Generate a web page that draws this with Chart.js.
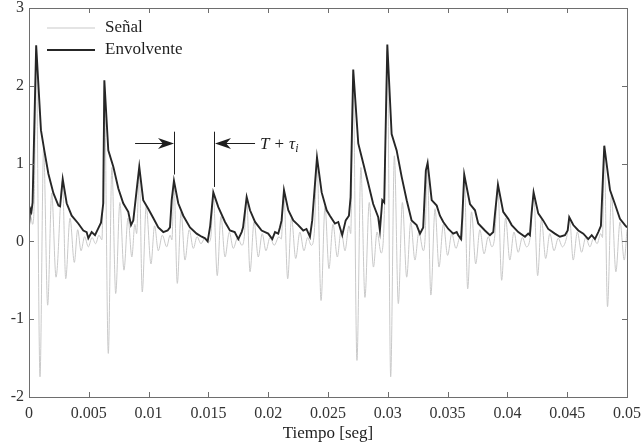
<!DOCTYPE html>
<html>
<head>
<meta charset="utf-8">
<script src="https://cdn.jsdelivr.net/npm/chart.js@4"></script>
<style>
  html, body { margin: 0; padding: 0; background: #fff; }
  #wrap { width: 642px; height: 448px; }
</style>
</head>
<body>
<div id="wrap"><canvas id="sigChart" width="642" height="448"></canvas></div>
<script>
// Señal + envolvente, 0..50 ms (times stored in ms, plotted in s)

const signalTimes = [
  0, 0.15, 0.3, 0.45, 0.6, 0.92, 1.22, 1.56, 1.9, 2.26, 2.8, 3.07, 3.43, 3.79, 4.07, 4.35, 4.65, 4.96, 5.27, 5.57, 5.85, 6.1,
  6.3, 6.63, 6.93, 7.25, 7.6, 7.94, 8.28, 8.6, 8.85, 9.0,
  9.22, 9.47, 9.8, 10.2, 10.5, 10.81, 11.15, 11.51, 11.8, 11.95,
  12.12, 12.4, 12.72, 13.04, 13.4, 13.74, 14.05, 14.38, 14.7, 15.0, 15.2,
  15.41, 15.74, 16.05, 16.39, 16.75, 17.08, 17.45, 17.8, 18.0,
  18.2, 18.48, 18.82, 19.17, 19.5, 19.81, 20.15, 20.5, 20.9, 21.1,
  21.3, 21.63, 21.95, 22.3, 22.65, 22.99, 23.3, 23.6, 23.85,
  24.08, 24.42, 24.75, 25.08, 25.42, 25.78, 26.1, 26.42, 26.75, 26.9,
  27.1, 27.42, 27.75, 28.09, 28.45, 28.8, 29.1, 29.45, 29.7,
  29.96, 30.24, 30.55, 30.88, 31.22, 31.58, 31.92, 32.27, 32.6, 32.97, 33.12,
  33.3, 33.6, 33.95, 34.28, 34.65, 35.0, 35.35, 35.7, 36.05, 36.2,
  36.4, 36.68, 37.0, 37.35, 37.7, 38.05, 38.4, 38.7, 38.95,
  39.2, 39.52, 39.85, 40.2, 40.55, 40.9, 41.25, 41.6, 41.9,
  42.2, 42.53, 42.85, 43.2, 43.55, 43.9, 44.25, 44.6, 44.95,
  45.2, 45.5, 45.85, 46.2, 46.55, 46.9, 47.2, 47.5, 47.8, 47.95,
  48.1, 48.37, 48.7, 49.07, 49.42, 49.77, 50.0
];
const signalValues = [
  0.18, 0.32, 0.22, 0.6, 2.45, -1.74, 1.2, -0.82, 0.62, -0.46, 0.78, -0.48, 0.3, -0.27, 0.15, -0.12, 0.06, -0.07, 0.05, -0.03, 0.08, 0.02,
  2.0, -1.44, 0.95, -0.67, 0.5, -0.37, 0.3, -0.2, 0.22, 0.1,
  0.92, -0.65, 0.45, -0.29, 0.2, -0.12, 0.08, -0.07, 0.08, 0.02,
  0.75, -0.54, 0.38, -0.24, 0.15, -0.09, 0.06, -0.03, 0.04, -0.01, 0.05,
  0.6, -0.44, 0.32, -0.2, 0.12, -0.09, 0.05, -0.05, 0.06,
  0.55, -0.39, 0.25, -0.2, 0.1, -0.12, 0.05, -0.05, 0.06, 0.03,
  0.63, -0.48, 0.3, -0.22, 0.12, -0.12, 0.05, -0.05, 0.1,
  1.03, -0.76, 0.45, -0.35, 0.22, -0.2, 0.15, -0.12, 0.2, 0.1,
  2.15, -1.53, 0.95, -0.72, 0.5, -0.33, 0.12, -0.15, 0.3,
  2.45, -1.74, 1.1, -0.8, 0.5, -0.46, 0.25, -0.24, 0.12, -0.12, 0.05,
  0.98, -0.69, 0.42, -0.33, 0.22, -0.18, 0.1, -0.09, 0.06, 0.02,
  0.83, -0.61, 0.38, -0.29, 0.15, -0.16, 0.06, -0.07, 0.08,
  0.7, -0.5, 0.3, -0.24, 0.12, -0.14, 0.05, -0.07, 0.05,
  0.6, -0.44, 0.28, -0.22, 0.1, -0.12, 0.04, -0.07, 0.05,
  0.29, -0.24, 0.12, -0.14, 0.05, -0.07, 0.04, -0.03, 0.1, 0.05,
  1.18, -0.84, 0.6, -0.39, 0.25, -0.24, 0.15
];

const envTimes = [
  0, 0.1, 0.2, 0.3, 0.6, 1.0, 1.28, 1.62, 2.04, 2.46, 2.6, 2.82, 3.15, 3.57, 4.12, 4.54, 4.82, 4.96, 5.24, 5.52, 5.8, 6.02, 6.21,
  6.3, 6.63, 7.05, 7.47, 7.88, 8.3, 8.53, 8.72, 9.0,
  9.22, 9.55, 9.97, 10.39, 10.81, 11.23, 11.59, 11.79, 11.93,
  12.12, 12.48, 12.9, 13.46, 14.02, 14.44, 14.72, 14.94, 15.15,
  15.41, 15.83, 16.39, 16.8, 17.2, 17.5, 17.78, 17.9,
  18.2, 18.48, 18.9, 19.45, 20.0, 20.34, 20.57, 20.84, 20.98, 21.12,
  21.32, 21.68, 22.1, 22.51, 22.93, 23.2, 23.49, 23.68,
  24.08, 24.47, 24.89, 25.16, 25.58, 25.86, 26.19, 26.48, 26.75, 26.89,
  27.11, 27.53, 27.95, 28.37, 28.78, 29.2, 29.34, 29.54, 29.7,
  29.96, 30.32, 30.74, 31.16, 31.58, 31.99, 32.41, 32.69, 32.96, 33.18,
  33.33, 33.67, 34.09, 34.36, 34.64, 35.06, 35.47, 35.76, 35.89, 36.12, 36.23,
  36.39, 36.87, 37.29, 37.56, 38.12, 38.54, 38.82, 38.96,
  39.21, 39.65, 40.07, 40.36, 40.91, 41.47, 41.74, 41.88, 42.02,
  42.19, 42.58, 42.99, 43.41, 43.97, 44.39, 44.81, 45.04,
  45.17, 45.51, 45.93, 46.35, 46.76, 47.05, 47.32, 47.6, 47.82,
  48.1, 48.58, 48.99, 49.41, 49.83, 50.0
];
const envValues = [
  0.2, 0.42, 0.38, 0.5, 2.52, 1.43, 1.17, 0.87, 0.62, 0.46, 0.45, 0.8, 0.49, 0.33, 0.23, 0.14, 0.12, 0.04, 0.12, 0.08, 0.17, 0.24, 0.49,
  2.07, 1.17, 0.96, 0.68, 0.49, 0.38, 0.21, 0.27, 0.66,
  0.96, 0.53, 0.42, 0.3, 0.18, 0.12, 0.14, 0.18, 0.53,
  0.78, 0.49, 0.33, 0.18, 0.1, 0.06, 0.04, 0.0, 0.2,
  0.63, 0.44, 0.25, 0.14, 0.12, 0.03, 0.12, 0.18,
  0.57, 0.4, 0.25, 0.14, 0.1, 0.03, 0.12, 0.1, 0.18, 0.27,
  0.66, 0.4, 0.27, 0.21, 0.14, 0.16, 0.06, 0.27,
  1.08, 0.63, 0.4, 0.33, 0.23, 0.25, 0.08, 0.27, 0.33, 0.57,
  2.21, 1.26, 1.0, 0.74, 0.48, 0.31, 0.14, 0.53, 0.5,
  2.53, 1.38, 1.17, 0.83, 0.53, 0.27, 0.21, 0.1, 0.18, 0.91,
  1.01, 0.53, 0.46, 0.33, 0.25, 0.16, 0.1, 0.12, 0.08, 0.03, 0.31,
  0.86, 0.48, 0.4, 0.23, 0.14, 0.08, 0.12, 0.35,
  0.73, 0.38, 0.29, 0.21, 0.12, 0.06, 0.1, 0.08, 0.36,
  0.63, 0.36, 0.27, 0.16, 0.1, 0.06, 0.08, 0.14,
  0.31, 0.21, 0.14, 0.1, 0.03, 0.08, 0.03, 0.12, 0.2,
  1.23, 0.66, 0.48, 0.29, 0.21, 0.18
];

const xTickValues = [0, 0.005, 0.01, 0.015, 0.02, 0.025, 0.03, 0.035, 0.04, 0.045, 0.05];
const xTickLabels = ["0", "0.005", "0.01", "0.015", "0.02", "0.025", "0.03", "0.035", "0.04", "0.045", "0.05"];
const yTickValues = [-2, -1, 0, 1, 2, 3];
const yTickLabels = ["-2", "-1", "0", "1", "2", "3"];

const seriesLabels = ["Señal", "Envolvente"];
const xTitle = "Tiempo [seg]";

// annotation: two markers at consecutive envelope peaks (ms / signal units)
const markTimes = [12.12, 15.47];
const markTop = 1.41;
const markBottoms = [0.86, 0.70];
const arrowY = 1.27;
const arrowTails = [8.87, 18.9];

const SERIF = "'Liberation Serif', 'Times New Roman', serif";
const SIG_COLOR = "#c9c9c9";
const ENV_COLOR = "#262626";
const AXIS_COLOR = "#6e6e6e";

function toPoints(ts, vs) {
  return ts.map((t, i) => ({ x: t / 1000, y: vs[i] }));
}

function arrowHead(ctx, tipX, y, dir) {
  // dir = +1 points right, -1 points left
  const len = 16, half = 5.5;
  ctx.beginPath();
  ctx.moveTo(tipX, y);
  ctx.lineTo(tipX - dir * len, y - half);
  ctx.lineTo(tipX - dir * len * 0.7, y);
  ctx.lineTo(tipX - dir * len, y + half);
  ctx.closePath();
  ctx.fill();
}

const framePlugin = {
  id: "framePlugin",
  afterDatasetsDraw(chart) {
    const { ctx, chartArea: a } = chart;
    const xs = chart.scales.x, ys = chart.scales.y;
    ctx.save();

    // box + inward ticks on all four sides
    ctx.strokeStyle = AXIS_COLOR;
    ctx.lineWidth = 1;
    ctx.strokeRect(a.left + 0.5, a.top + 0.5, a.right - a.left, a.bottom - a.top);
    const tl = 5;
    ctx.beginPath();
    xTickValues.forEach(v => {
      const px = Math.round(xs.getPixelForValue(v)) + 0.5;
      ctx.moveTo(px, a.bottom); ctx.lineTo(px, a.bottom - tl);
      ctx.moveTo(px, a.top); ctx.lineTo(px, a.top + tl);
    });
    yTickValues.forEach(v => {
      const py = Math.round(ys.getPixelForValue(v)) + 0.5;
      ctx.moveTo(a.left, py); ctx.lineTo(a.left + tl, py);
      ctx.moveTo(a.right, py); ctx.lineTo(a.right - tl, py);
    });
    ctx.stroke();

    // T + tau_i markers
    ctx.strokeStyle = "#1e1e1e";
    ctx.fillStyle = "#1e1e1e";
    ctx.lineWidth = 1;
    const yTop = ys.getPixelForValue(markTop);
    const yArr = Math.round(ys.getPixelForValue(arrowY)) + 0.5;
    const m0 = Math.round(xs.getPixelForValue(markTimes[0] / 1000)) + 0.5;
    const m1 = Math.round(xs.getPixelForValue(markTimes[1] / 1000)) + 0.5;
    const t0 = xs.getPixelForValue(arrowTails[0] / 1000);
    const t1 = xs.getPixelForValue(arrowTails[1] / 1000);
    ctx.beginPath();
    ctx.moveTo(m0, yTop); ctx.lineTo(m0, ys.getPixelForValue(markBottoms[0]));
    ctx.moveTo(m1, yTop); ctx.lineTo(m1, ys.getPixelForValue(markBottoms[1]));
    ctx.moveTo(t0, yArr); ctx.lineTo(m0 - 4, yArr);
    ctx.moveTo(t1, yArr); ctx.lineTo(m1 + 4, yArr);
    ctx.stroke();
    arrowHead(ctx, m0 - 0.5, yArr, 1);
    arrowHead(ctx, m1 + 0.5, yArr, -1);

    let tx = t1 + 5;
    ctx.textBaseline = "alphabetic";
    ctx.textAlign = "left";
    const by = yArr + 5;
    ctx.font = "italic 17px " + SERIF;
    ctx.fillText("T", tx, by); tx += ctx.measureText("T").width + 5;
    ctx.font = "17px " + SERIF;
    ctx.fillText("+", tx, by); tx += ctx.measureText("+").width + 5;
    ctx.font = "italic 17px " + SERIF;
    ctx.fillText("τ", tx, by); tx += ctx.measureText("τ").width;
    ctx.font = "italic 12px " + SERIF;
    ctx.fillText("i", tx, by + 3);

    // legend
    const lx0 = 47, lx1 = 95, tx0 = 105;
    const rows = [28, 50];
    const colors = [SIG_COLOR, ENV_COLOR];
    const widths = [1, 1.8];
    ctx.font = "17px " + SERIF;
    ctx.textBaseline = "middle";
    rows.forEach((ry, i) => {
      ctx.strokeStyle = colors[i];
      ctx.lineWidth = widths[i];
      ctx.beginPath();
      ctx.moveTo(lx0, ry); ctx.lineTo(lx1, ry);
      ctx.stroke();
      ctx.fillStyle = "#1e1e1e";
      ctx.fillText(seriesLabels[i], tx0, ry);
    });

    ctx.restore();
  }
};

const config = {
  type: "line",
  data: {
    datasets: [
      {
        label: seriesLabels[0],
        data: toPoints(signalTimes, signalValues),
        borderColor: SIG_COLOR,
        borderWidth: 1,
        pointRadius: 0,
        cubicInterpolationMode: "monotone",
        order: 2
      },
      {
        label: seriesLabels[1],
        data: toPoints(envTimes, envValues),
        borderColor: ENV_COLOR,
        borderWidth: 1.9,
        pointRadius: 0,
        tension: 0,
        order: 1
      }
    ]
  },
  options: {
    responsive: false,
    animation: false,
    parsing: false,
    layout: { padding: { top: 8, right: 15, left: 0, bottom: 0 } },
    plugins: { legend: { display: false }, tooltip: { enabled: false } },
    scales: {
      x: {
        type: "linear",
        min: 0,
        max: 0.05,
        grid: { display: false, drawTicks: false },
        border: { display: false },
        afterBuildTicks: s => { s.ticks = xTickValues.map(v => ({ value: v })); },
        afterFit: s => { s.height = 51; s.paddingLeft = 0; s.paddingRight = 0; },
        ticks: {
          autoSkip: false,
          maxRotation: 0,
          padding: 7,
          color: "#333",
          font: { family: SERIF, size: 16 },
          callback: (v, i) => xTickLabels[i]
        },
        title: {
          display: true,
          text: xTitle,
          color: "#1e1e1e",
          font: { family: SERIF, size: 17 },
          padding: { top: 0, bottom: 4 }
        }
      },
      y: {
        min: -2,
        max: 3,
        grid: { display: false, drawTicks: false },
        border: { display: false },
        afterBuildTicks: s => { s.ticks = yTickValues.map(v => ({ value: v })); },
        afterFit: s => { s.width = 29; s.paddingTop = 0; s.paddingBottom = 0; },
        ticks: {
          padding: 5,
          color: "#333",
          font: { family: SERIF, size: 16 },
          callback: (v, i) => yTickLabels[i]
        }
      }
    }
  },
  plugins: [framePlugin]
};

new Chart(document.getElementById("sigChart").getContext("2d"), config);
</script>
</body>
</html>
